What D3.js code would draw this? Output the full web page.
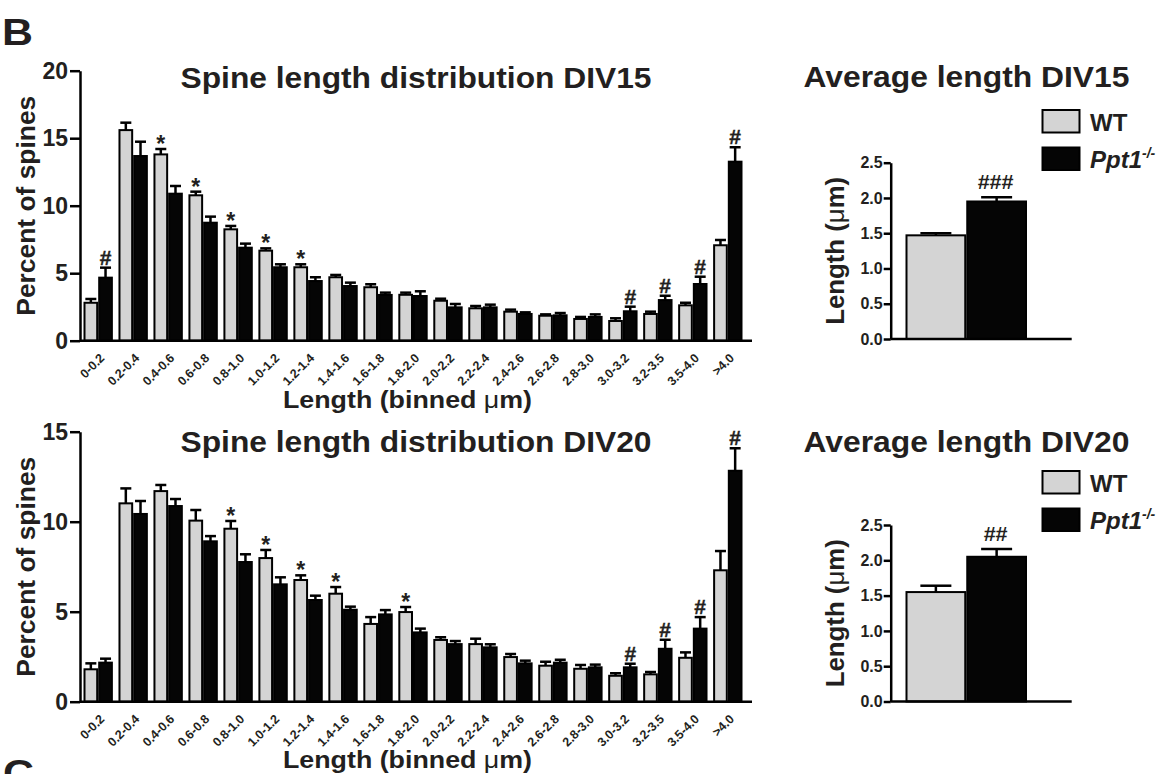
<!DOCTYPE html>
<html>
<head>
<meta charset="utf-8">
<script src="https://cdn.jsdelivr.net/npm/d3@7"></script>
<style>
  html, body { margin: 0; padding: 0; background: #fff; }
  svg { display: block; }
  text { font-family: "Liberation Sans", Arial, Helvetica, sans-serif; fill: #231f20; }
</style>
</head>
<body>
<svg id="fig" width="1166" height="774"></svg>
<script>
// Bins of spine length (µm)
const bins = ["0-0.2","0.2-0.4","0.4-0.6","0.6-0.8","0.8-1.0","1.0-1.2","1.2-1.4","1.4-1.6",
  "1.6-1.8","1.8-2.0","2.0-2.2","2.2-2.4","2.4-2.6","2.6-2.8","2.8-3.0","3.0-3.2","3.2-3.5","3.5-4.0",">4.0"];
const groups = ["WT", "Ppt1-/-"];

// DIV15 distribution (% of spines, mean and SEM)
const wt15    = [2.81,15.6,13.8,10.77,8.25,6.67,5.44,4.7,3.96,3.4,2.96,2.4,2.15,1.85,1.61,1.46,1.98,2.62,7.07];
const wt15Sem = [0.28,0.55,0.4,0.27,0.25,0.17,0.22,0.17,0.22,0.16,0.15,0.17,0.15,0.1,0.15,0.2,0.17,0.19,0.39];
const ko15    = [4.67,13.68,10.89,8.74,6.89,5.44,4.42,4.05,3.39,3.31,2.47,2.47,1.98,1.88,1.76,2.18,3.01,4.2,13.26];
const ko15Sem = [0.74,1.06,0.57,0.45,0.3,0.22,0.28,0.25,0.17,0.35,0.25,0.2,0.12,0.17,0.19,0.34,0.32,0.54,1.07];
const wt15Mark = ["","","*","*","*","*","*","","","","","","","","","","","",""];
const ko15Mark = ["#","","","","","","","","","","","","","","","#","#","#","#"];

// DIV20 distribution
const wt20    = [1.8,11.02,11.7,10.06,9.61,7.98,6.76,6.0,4.32,4.98,3.43,3.2,2.48,2.0,1.83,1.44,1.52,2.44,7.3];
const wt20Sem = [0.33,0.83,0.34,0.59,0.43,0.45,0.26,0.37,0.38,0.28,0.15,0.3,0.17,0.22,0.21,0.14,0.13,0.3,1.07];
const ko20    = [2.17,10.43,10.87,8.91,7.76,6.52,5.65,5.11,4.85,3.85,3.2,3.02,2.13,2.17,1.91,1.91,2.94,4.06,12.83];
const ko20Sem = [0.22,0.72,0.39,0.29,0.43,0.39,0.24,0.17,0.24,0.21,0.17,0.17,0.15,0.16,0.15,0.2,0.5,0.64,1.25];
const wt20Mark = ["","","","","*","*","*","*","","*","","","","","","","","",""];
const ko20Mark = ["","","","","","","","","","","","","","","","#","#","#","#"];

// Average spine length (µm)
const avg15    = [1.47, 1.95];
const avg15Sem = [0.03, 0.06];
const avg15Mark = ["", "###"];
const avg20    = [1.55, 2.05];
const avg20Sem = [0.09, 0.11];
const avg20Mark = ["", "##"];

const distTicks15 = [0, 5, 10, 15, 20];
const distTicks20 = [0, 5, 10, 15];
const avgTicks = [0, 0.5, 1.0, 1.5, 2.0, 2.5];

const fills = ["#d4d4d4", "#050505"];
const svg = d3.select("#fig");
const INK = "#231f20";

function errorBars(g, cx, y0, y1, capW) {
  g.append("line").attr("x1", cx).attr("x2", cx).attr("y1", y0).attr("y2", y1)
    .attr("stroke", "#000").attr("stroke-width", 2.5);
  g.append("line").attr("x1", cx - capW / 2).attr("x2", cx + capW / 2).attr("y1", y1).attr("y2", y1)
    .attr("stroke", "#000").attr("stroke-width", 2.5);
}

function distPanel(o) {
  const g = svg.append("g");
  const x = d3.scaleBand().domain(bins).range([80, 746]).paddingInner(0.16).paddingOuter(0.1);
  const xs = d3.scaleBand().domain(groups).range([0, x.bandwidth()]);
  const y = d3.scaleLinear().domain([0, o.max]).range([o.base, o.top]);
  const series = [
    { vals: o.wt, sem: o.wtSem, mark: o.wtMark, key: groups[0], fill: fills[0] },
    { vals: o.ko, sem: o.koSem, mark: o.koMark, key: groups[1], fill: fills[1] }
  ];
  series.forEach(s => {
    bins.forEach((b, i) => {
      const x0 = x(b) + xs(s.key);
      const w = xs.bandwidth();
      const cx = x0 + w / 2;
      errorBars(g, cx, y(s.vals[i]), y(s.vals[i] + s.sem[i]), 11);
      g.append("rect").attr("x", x0 + 1).attr("y", y(s.vals[i]))
        .attr("width", w - 2).attr("height", y(0) - y(s.vals[i]))
        .attr("fill", s.fill).attr("stroke", "#000").attr("stroke-width", 2);
      const m = s.mark[i];
      if (m) {
        g.append("text").attr("x", cx).attr("y", y(s.vals[i] + s.sem[i]) + (m === "*" ? 3 : -3))
          .attr("text-anchor", "middle").attr("font-weight", "bold")
          .attr("font-size", m === "*" ? 23 : 21)
          .attr("stroke", m === "#" ? INK : "none").attr("stroke-width", 0.4)
          .text(m);
      }
    });
  });

  // y axis
  const ya = g.append("g").attr("transform", "translate(80,0)")
    .call(d3.axisLeft(y).tickValues(o.ticks).tickSize(10).tickPadding(2).tickSizeOuter(0));
  ya.select(".domain").attr("stroke", "#000").attr("stroke-width", 2.5);
  ya.selectAll(".tick line").attr("stroke", "#000").attr("stroke-width", 2.5);
  ya.selectAll(".tick text").attr("font-size", 23).attr("font-weight", "bold")
    .attr("font-family", "Liberation Sans, Arial, sans-serif").attr("fill", INK);

  // x axis
  const xa = g.append("g").attr("transform", `translate(0,${o.base})`)
    .call(d3.axisBottom(x).tickSize(0).tickPadding(0));
  xa.select(".domain").attr("d", "M80,0H752").attr("stroke", "#000").attr("stroke-width", 2.5);
  xa.selectAll(".tick text")
    .attr("font-family", "Lato, 'Open Sans', sans-serif").attr("font-weight", "bold")
    .attr("font-size", 12.5).attr("fill", INK)
    .attr("text-anchor", "end").attr("dy", "0.35em")
    .attr("transform", "translate(4,15) rotate(-45)");

  // titles
  g.append("text").attr("x", 416).attr("y", o.titleY).attr("text-anchor", "middle")
    .attr("font-size", 30).attr("font-weight", "bold")
    .attr("textLength", 471).attr("lengthAdjust", "spacingAndGlyphs").text(o.title);
  const xt = g.append("text").attr("x", 407.5).attr("y", o.xTitleY).attr("text-anchor", "middle")
    .attr("font-size", 24).attr("font-weight", "bold")
    .attr("textLength", 249).attr("lengthAdjust", "spacingAndGlyphs");
  xt.append("tspan").text("Length (binned ");
  xt.append("tspan").attr("font-weight", "normal").text("\u03bc");
  xt.append("tspan").text("m)");
  g.append("text").attr("transform", `translate(35,${(o.base + o.top) / 2}) rotate(-90)`)
    .attr("text-anchor", "middle").attr("font-size", 26).attr("font-weight", "bold")
    .attr("textLength", 220).attr("lengthAdjust", "spacingAndGlyphs").text("Percent of spines");
}

function avgPanel(o) {
  const g = svg.append("g");
  const x = d3.scaleBand().domain(groups).range([905.5, 1027]);
  const y = d3.scaleLinear().domain([0, 2.5]).range([o.base, o.top]);
  groups.forEach((k, i) => {
    const x0 = x(k), w = x.bandwidth(), cx = x0 + w / 2;
    errorBars(g, cx, y(o.vals[i]), y(o.vals[i] + o.sem[i]), 31);
    g.append("rect").attr("x", x0 + 1).attr("y", y(o.vals[i]))
      .attr("width", w - 2).attr("height", y(0) - y(o.vals[i]))
      .attr("fill", fills[i]).attr("stroke", "#000").attr("stroke-width", 2);
    if (o.mark[i]) {
      g.append("text").attr("x", cx - 1).attr("y", y(o.vals[i] + o.sem[i]) - 8)
        .attr("text-anchor", "middle").attr("font-weight", "bold").attr("font-size", 20)
        .attr("textLength", o.mark[i].length * 12).attr("lengthAdjust", "spacingAndGlyphs")
        .text(o.mark[i]);
    }
  });
  const ya = g.append("g").attr("transform", "translate(890.7,0)")
    .call(d3.axisLeft(y).tickValues(avgTicks).tickFormat(d3.format(".1f")).tickSize(7).tickPadding(1).tickSizeOuter(0));
  ya.select(".domain").attr("stroke", "#000").attr("stroke-width", 2.5);
  ya.selectAll(".tick line").attr("stroke", "#000").attr("stroke-width", 2.5);
  ya.selectAll(".tick text").attr("font-size", 16).attr("font-weight", "bold")
    .attr("font-family", "Liberation Sans, Arial, sans-serif").attr("fill", INK);
  g.append("line").attr("x1", 890.7).attr("x2", 1071.7).attr("y1", o.base).attr("y2", o.base)
    .attr("stroke", "#000").attr("stroke-width", 2.5);

  g.append("text").attr("x", 966.5).attr("y", o.titleY).attr("text-anchor", "middle")
    .attr("font-size", 30).attr("font-weight", "bold")
    .attr("textLength", 326).attr("lengthAdjust", "spacingAndGlyphs").text(o.title);
  const yl = g.append("text").attr("transform", `translate(843.5,${(o.base + o.top) / 2}) rotate(-90)`)
    .attr("text-anchor", "middle").attr("font-size", 25).attr("font-weight", "bold")
    .attr("textLength", 148).attr("lengthAdjust", "spacingAndGlyphs");
  yl.append("tspan").text("Length (");
  yl.append("tspan").attr("font-weight", "normal").text("\u03bc");
  yl.append("tspan").text("m)");

  // legend
  const lg = g.append("g").attr("transform", `translate(1042,${o.legendY})`);
  groups.forEach((k, i) => {
    const row = lg.append("g").attr("transform", `translate(0,${i * 37.5})`);
    row.append("rect").attr("x", 0.5).attr("y", 0.5).attr("width", 37).attr("height", 22.5)
      .attr("fill", fills[i]).attr("stroke", "#000").attr("stroke-width", 2);
    const t = row.append("text").attr("x", 48).attr("y", 21).attr("font-size", 24).attr("font-weight", "bold");
    if (i === 0) t.text("WT");
    else {
      t.append("tspan").attr("font-style", "italic").text("Ppt1");
      t.append("tspan").attr("font-style", "italic").attr("font-size", 14).attr("dy", -10).text("-/-");
    }
  });
}

distPanel({ wt: wt15, wtSem: wt15Sem, ko: ko15, koSem: ko15Sem, wtMark: wt15Mark, koMark: ko15Mark,
  max: 20, ticks: distTicks15, base: 340.7, top: 70.7, titleY: 88, xTitleY: 408,
  title: "Spine length distribution DIV15" });
distPanel({ wt: wt20, wtSem: wt20Sem, ko: ko20, koSem: ko20Sem, wtMark: wt20Mark, koMark: ko20Mark,
  max: 15, ticks: distTicks20, base: 701.7, top: 431.7, titleY: 451.5, xTitleY: 768,
  title: "Spine length distribution DIV20" });

avgPanel({ vals: avg15, sem: avg15Sem, mark: avg15Mark, base: 339, top: 162.7, titleY: 87,
  legendY: 109.5, title: "Average length DIV15" });
avgPanel({ vals: avg20, sem: avg20Sem, mark: avg20Mark, base: 701.5, top: 525, titleY: 451.5,
  legendY: 470.5, title: "Average length DIV20" });

// Panel letters
svg.append("text").attr("x", 2).attr("y", 45).attr("font-size", 36).attr("font-weight", "bold")
  .attr("textLength", 31).attr("lengthAdjust", "spacingAndGlyphs").text("B");
svg.append("text").attr("x", 3).attr("y", 786).attr("font-size", 36).attr("font-weight", "bold")
  .attr("textLength", 31).attr("lengthAdjust", "spacingAndGlyphs").text("C");
</script>
</body>
</html>
